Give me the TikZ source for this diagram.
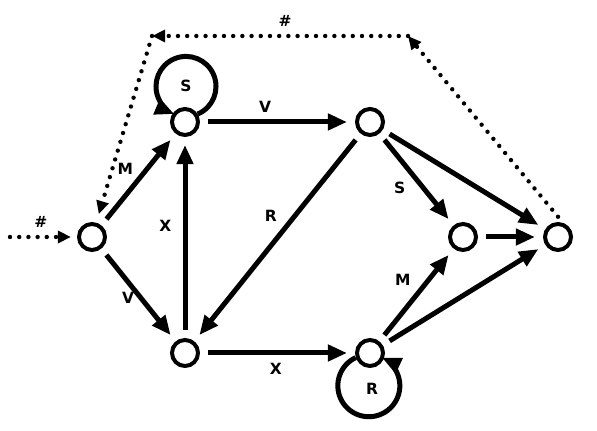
\documentclass[tikz,border=0pt]{standalone}
\usepackage{fontspec}
\setmainfont{DejaVu Sans}
\usetikzlibrary{arrows.meta,positioning}

\begin{document}
\begin{tikzpicture}[
  x=0.025cm, y=0.025cm,
  font=\fontsize{11}{13}\selectfont\bfseries,
  st/.style={circle,draw=black,line width=0.1cm,minimum size=0.65cm,inner sep=0pt,fill=white},
  arr/.style={-{Triangle[length=0.48cm,width=0.4cm]},line width=0.125cm,shorten >=0.2cm,shorten <=0.2cm},
  dots/.style={-{Triangle[length=0.33cm,width=0.3cm]},line width=0.11cm,line cap=round,
    dash pattern=on 0pt off 0.23cm},
  lbl/.style={inner sep=0pt}
]
\useasboundingbox (0,0) rectangle (597,431);

% ---- states ----
\node[st] (n0) at (92,194) {};
\node[st] (n1) at (185,309) {};
\node[st] (n2) at (185,78) {};
\node[st] (n3) at (370,309) {};
\node[st] (n4) at (370,78) {};
\node[st] (n5) at (463,194) {};
\node[st] (n6) at (558,194) {};

\coordinate (src) at (10,194);
\coordinate (tr) at (408,395);
\coordinate (tl) at (152,395);

% ---- transitions ----
\draw[arr] (n0) -- node[lbl,pos=.5,above left=3pt] (lM0) {M} (n1);
\draw[arr] (n0) -- node[lbl,pos=.53,left=3pt] (lV0) {V} (n2);
\draw[arr] (n2) -- node[lbl,pos=.56,left=8pt] (lX2) {X} (n1);
\draw[arr] (n1) -- node[lbl,pos=.42,above=5pt] (lV1) {V} (n3);
\draw[arr] (n2) -- node[lbl,pos=.49,below=5.5pt] (lX4) {X} (n4);
\draw[arr] (n3) -- node[lbl,pos=.46,above left=5pt] (lR3) {R} (n2);
\draw[arr] (n3) -- node[lbl,pos=.45,below left=5pt] (lS3) {S} (n5);
\draw[arr] (n3) -- (n6);
\draw[arr] (n4) -- node[lbl,pos=.52,above left=5pt] (lM4) {M} (n5);
\draw[arr] (n4) -- (n6);
\draw[arr] (n5) -- (n6);

% self loops
\draw[arr,shorten >=0pt,shorten <=0pt] (n1.32) arc[start angle=-67,end angle=247,radius=30];
\node[lbl] (lS1) at (186,345) {S};
\draw[arr,shorten >=0pt,shorten <=0pt] (n4.198) arc[start angle=115,end angle=425,radius=31];
\node[lbl] (lR4) at (372,42) {R};

% ---- start / restart ----
\draw[dots,shorten >=0.15cm] (src) -- node[lbl,pos=.46,above=5pt] (lH0) {\#} (n0);
\draw[dots,shorten <=0.2cm] (n6.70) -- (tr);
\draw[dots] (tr) -- node[lbl,pos=.48,above=5.5pt] (lH1) {\#} (tl);
\draw[dots,shorten >=0.22cm] (tl) -- (n0);

\end{tikzpicture}
\end{document}
